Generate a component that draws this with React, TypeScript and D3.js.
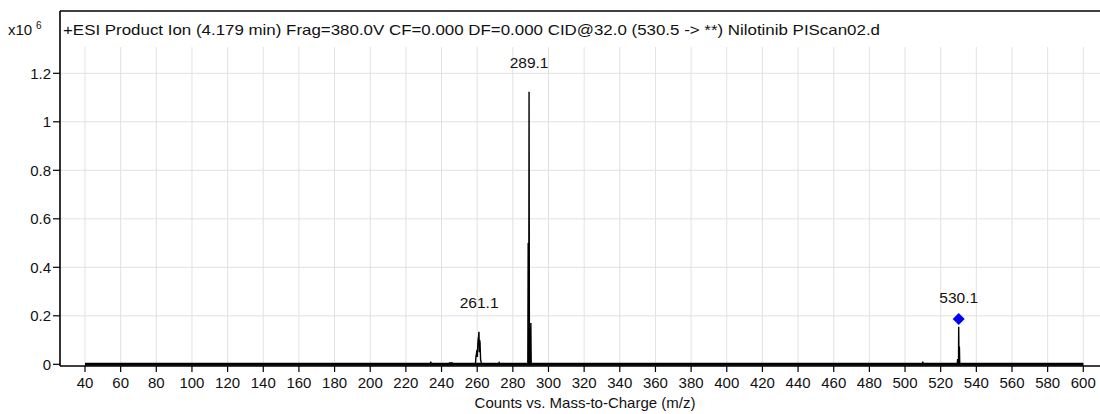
import React from "react";
import * as d3 from "d3";

// ---- data ----
const xTicks = [40, 60, 80, 100, 120, 140, 160, 180, 200, 220, 240, 260, 280, 300, 320, 340, 360, 380, 400, 420, 440, 460, 480, 500, 520, 540, 560, 580, 600];
const yTicks = [0, 0.2, 0.4, 0.6, 0.8, 1, 1.2];
const yTickLabels = ["0", "0.2", "0.4", "0.6", "0.8", "1", "1.2"];

// spectrum profile (m/z, counts x10^6)
const specMz = [
  40, 233.5, 234, 234.5, 244, 244.5, 246, 246.5,
  259, 259.3, 259.6, 259.9, 260.1, 260.3, 260.5, 260.8, 261.0, 261.2, 261.4, 261.6, 261.9, 262.2, 262.5,
  272, 272.3, 272.6,
  288.4, 288.6, 288.8, 288.9, 289.1, 289.3, 289.9, 290.1, 290.3,
  509.5, 510, 510.5,
  529.3, 529.5, 529.7, 530.0, 530.1, 530.3, 530.4, 530.5, 530.7,
  600,
];
const specInt = [
  0, 0, 0.008, 0, 0, 0.006, 0.006, 0,
  0, 0.03, 0.045, 0.06, 0.03, 0.075, 0.1, 0.115, 0.134, 0.05, 0.1, 0.09, 0.02, 0.01, 0,
  0, 0.006, 0,
  0, 0.5, 0, 0, 1.124, 0, 0, 0.17, 0,
  0, 0.008, 0,
  0, 0.022, 0, 0, 0.155, 0, 0, 0.073, 0,
  0,
];
const baselineRange = [40, 600];

const peakLabels = ["261.1", "289.1", "530.1"];
const peakLabelMz = [261.1, 289.1, 530.1];
const peakLabelInt = [0.134, 1.124, 0.155];

const precursorMz = [530.1];
const precursorInt = [0.187];

const title = "+ESI Product Ion (4.179 min) Frag=380.0V CF=0.000 DF=0.000 CID@32.0 (530.5 -> **) Nilotinib PIScan02.d";
const xTitle = "Counts vs. Mass-to-Charge (m/z)";

export default function App() {
  const W = 1100, H = 414;
  const left = 60, right = 1100, top = 11, gridTop = 47;
  const x = d3.scaleLinear().domain([25.98, 609.37]).range([left, right]);
  const y = d3.scaleLinear().domain([0, 1.2]).range([364.3, 73.3]);
  const axisY = 366;
  const font = "'Liberation Sans', Arial, sans-serif";
  const txt = "#111";

  const pts: [number, number][] = specMz.map((m, i) => [m, specInt[i]]);
  const line = d3.line<[number, number]>().x(d => x(d[0])).y(d => y(d[1]));

  return (
    <svg width={W} height={H} style={{ position: "absolute", left: 0, top: 0, background: "#fff" }} fontFamily={font}>
      <rect x={0} y={0} width={W} height={H} fill="#fff" />
      {/* grid */}
      {xTicks.map(t => (
        <line key={"gx" + t} x1={x(t)} x2={x(t)} y1={gridTop} y2={axisY} stroke="#e2e2e2" strokeWidth={1} />
      ))}
      {yTicks.slice(1).map(t => (
        <line key={"gy" + t} x1={left} x2={right} y1={y(t)} y2={y(t)} stroke="#e2e2e2" strokeWidth={1} />
      ))}
      {/* frame */}
      <line x1={left} x2={right} y1={top} y2={top} stroke="#000" strokeWidth={1.6} />
      <line x1={left} x2={left} y1={top} y2={axisY} stroke="#000" strokeWidth={1.6} />
      <line x1={left} x2={right} y1={axisY} y2={axisY} stroke="#000" strokeWidth={1.6} />
      {/* y ticks */}
      {yTicks.map((t, i) => (
        <g key={"yt" + t}>
          <line x1={53} x2={left} y1={y(t)} y2={y(t)} stroke="#000" strokeWidth={1.2} />
          <text x={51} y={y(t)} dy="0.35em" textAnchor="end" fontSize={15} fill={txt}>{yTickLabels[i]}</text>
        </g>
      ))}
      {/* x ticks */}
      {xTicks.map(t => (
        <g key={"xt" + t}>
          <line x1={x(t)} x2={x(t)} y1={axisY} y2={axisY + 6} stroke="#000" strokeWidth={1.2} />
          <text x={x(t)} y={383} dy="0.35em" textAnchor="middle" fontSize={15} fill={txt}>{t}</text>
        </g>
      ))}
      {/* baseline noise */}
      <line x1={x(baselineRange[0])} x2={x(baselineRange[1])} y1={y(0)} y2={y(0)} stroke="#000" strokeWidth={3} />
      {/* spectrum */}
      <path d={line(pts) || ""} fill="none" stroke="#000" strokeWidth={1.4} strokeLinejoin="miter" />
      {/* peak labels */}
      {peakLabels.map((l, i) => (
        <text key={l} x={x(peakLabelMz[i])} y={y(peakLabelInt[i]) - 24} textAnchor="middle" fontSize={15.5} fill={txt}>{l}</text>
      ))}
      {/* precursor marker */}
      {precursorMz.map((m, i) => {
        const cx = x(m), cy = y(precursorInt[i]);
        return <path key={"pm" + i} d={`M${cx},${cy - 6}L${cx + 6},${cy}L${cx},${cy + 6}L${cx - 6},${cy}Z`} fill="#0000ff" />;
      })}
      {/* title */}
      <text x={63} y={30} dy="0.35em" fontSize={15} textLength={817} lengthAdjust="spacingAndGlyphs" fill={txt}>{title}</text>
      <text x={8} y={30} dy="0.35em" fontSize={15} fill={txt}>x10</text>
      <text x={36} y={25} dy="0.35em" fontSize={10} fill={txt}>6</text>
      {/* axis title */}
      <text x={585} y={403} dy="0.35em" textAnchor="middle" fontSize={15} fill={txt}>{xTitle}</text>
    </svg>
  );
}
